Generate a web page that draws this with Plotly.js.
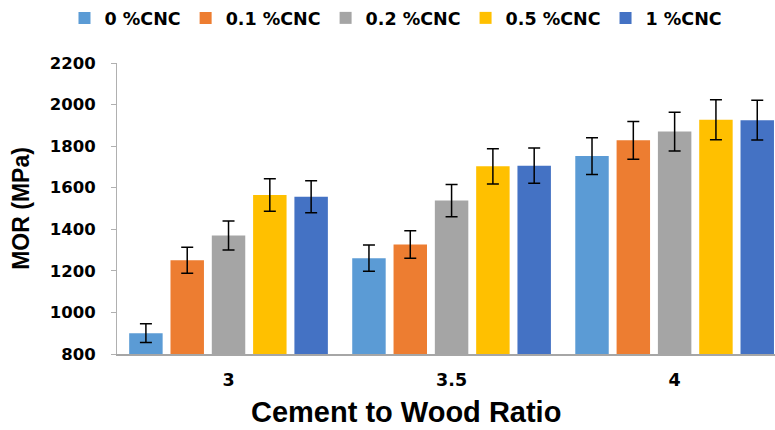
<!DOCTYPE html>
<html>
<head>
<meta charset="utf-8">
<script src="https://cdn.plot.ly/plotly-3.0.1.min.js"></script>
<style>html,body{margin:0;padding:0;background:#fff;}#chart{width:775px;height:430px;}</style>
</head>
<body>
<div id="chart"></div>
<script>
const ratios = ["3", "3.5", "4"];
const seriesNames = ["0 %CNC", "0.1 %CNC", "0.2 %CNC", "0.5 %CNC", "1 %CNC"];
const mor0 = [900, 1261, 1752];
const mor01 = [1251, 1327, 1828];
const mor02 = [1370, 1538, 1870];
const mor05 = [1565, 1703, 1927];
const mor1 = [1557, 1706, 1925];
const err0 = [45, 63, 88];
const err01 = [62, 66, 91];
const err02 = [70, 78, 93];
const err05 = [78, 85, 96];
const err1 = [77, 85, 96];
const colors = ["#5B9BD5", "#ED7D31", "#A5A5A5", "#FFC000", "#4472C4"];
const xTitle = 'Cement to Wood Ratio';
const yTitle = 'MOR (MPa)';

const values = [mor0, mor01, mor02, mor05, mor1];
const errors = [err0, err01, err02, err05, err1];

const traces = values.map((v, i) => ({
  type: 'bar',
  name: seriesNames[i],
  x: ratios,
  y: v,
  marker: {color: colors[i]},
  error_y: {type: 'data', array: errors[i], visible: true, color: '#000', thickness: 1.5, width: 6}
}));

const layout = {
  width: 775, height: 430,
  margin: {l: 117, r: 0, t: 63, b: 76},
  paper_bgcolor: '#fff', plot_bgcolor: '#fff',
  barmode: 'group',
  bargap: 0.074,
  bargroupgap: 0.19,
  showlegend: true,
  legend: {
    orientation: 'h', x: 0.424, xanchor: 'center', y: 1.155, yanchor: 'middle',
    font: {family: 'DejaVu Sans', size: 17.5, color: '#000', weight: 'bold'},
    traceorder: 'normal'
  },
  xaxis: {
    type: 'category',
    range: [-0.5, 2.45],
    showline: true, linecolor: '#a6a6a6', linewidth: 2,
    ticks: '', showgrid: false, zeroline: false,
    tickfont: {family: 'DejaVu Sans', size: 17.5, color: '#000', weight: 'bold'},
    ticklabelstandoff: 9
  },
  yaxis: {
    range: [800, 2200],
    dtick: 200,
    showline: true, linecolor: '#b0b0b0', linewidth: 1,
    ticks: 'outside', ticklen: 5, tickcolor: '#b0b0b0', tickwidth: 1,
    showgrid: false, zeroline: false,
    tickfont: {family: 'DejaVu Sans', size: 16.5, color: '#000', weight: 'bold'},
    ticklabelstandoff: 12,
    title: {text: yTitle, font: {family: 'Liberation Sans Narrow, Liberation Sans', size: 23, color: '#000', weight: 'bold'}, standoff: 13}
  },
  annotations: [{
    text: xTitle, xref: 'paper', yref: 'paper', x: 0.439, y: -0.2, xanchor: 'center', yanchor: 'middle',
    showarrow: false, font: {family: 'Liberation Sans', size: 29, color: '#000', weight: 'bold'}
  }]
};

Plotly.newPlot('chart', traces, layout, {displayModeBar: false, staticPlot: true});
</script>
</body>
</html>
